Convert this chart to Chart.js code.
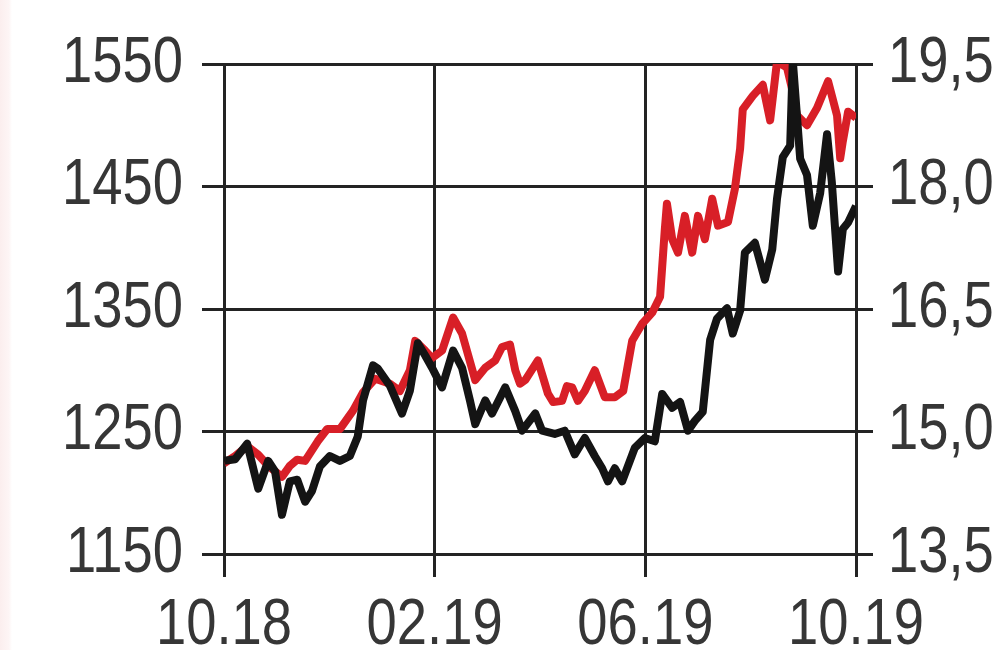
<!DOCTYPE html>
<html>
<head>
<meta charset="utf-8">
<title>Gold & Silver</title>
<script src="https://cdn.jsdelivr.net/npm/chart.js@4/dist/chart.umd.min.js"></script>
<style>
  html, body { margin: 0; padding: 0; background: #fff; }
  body { background: linear-gradient(to right, #fbeeee 0, #fdf5f5 9px, #fff 12px); }
  #wrap { position: relative; width: 996px; height: 650px; }
</style>
</head>
<body>
<div id="wrap"><canvas id="metalsChart"></canvas></div>
<script>
// x values are months since 10.18
const goldMonths = [0, 0.21, 0.44, 0.65, 0.84, 1.10, 1.25, 1.39, 1.54, 1.78, 1.96, 2.20, 2.45, 2.64, 2.87,
  3.15, 3.34, 3.53, 3.63, 3.82, 3.95, 4.14, 4.35, 4.52, 4.77, 4.96, 5.15, 5.28, 5.43, 5.53, 5.62, 5.72,
  5.96, 6.15, 6.25, 6.42, 6.51, 6.61, 6.72, 6.85, 7.04, 7.23, 7.42, 7.58, 7.75, 7.94, 8.13, 8.28, 8.37,
  8.41, 8.51, 8.62, 8.75, 8.89, 9.00, 9.13, 9.27, 9.38, 9.57, 9.70, 9.80, 9.85, 10.04, 10.23, 10.37,
  10.50, 10.69, 10.80, 10.88, 11.07, 11.26, 11.47, 11.64, 11.70, 11.75, 11.85, 12.00];
const goldPrice = [1224, 1230, 1238, 1231, 1222, 1213, 1222, 1227, 1226, 1242, 1252, 1252, 1267, 1282, 1293,
  1289, 1283, 1300, 1324, 1316, 1310, 1316, 1343, 1330, 1292, 1302, 1308, 1319, 1321, 1300, 1289, 1292,
  1308, 1281, 1274, 1275, 1287, 1286, 1275, 1283, 1300, 1278, 1278, 1283, 1324, 1338, 1347, 1360, 1415,
  1436, 1407, 1396, 1426, 1396, 1426, 1407, 1440, 1418, 1421, 1448, 1481, 1513, 1524, 1533, 1504,
  1552, 1547, 1527, 1508, 1500, 1514, 1536, 1508, 1473, 1487, 1511, 1506];

const silverMonths = [0, 0.21, 0.44, 0.65, 0.84, 0.97, 1.10, 1.25, 1.39, 1.54, 1.67, 1.82, 2.01, 2.20, 2.39,
  2.54, 2.64, 2.83, 2.92, 3.15, 3.38, 3.53, 3.68, 3.82, 3.95, 4.14, 4.35, 4.52, 4.67, 4.77, 4.96, 5.09,
  5.34, 5.53, 5.66, 5.91, 6.04, 6.28, 6.47, 6.66, 6.85, 7.04, 7.18, 7.29, 7.42, 7.56, 7.80, 7.99, 8.18,
  8.32, 8.51, 8.66, 8.81, 8.94, 9.09, 9.23, 9.36, 9.55, 9.66, 9.80, 9.89, 10.08, 10.27, 10.41, 10.50,
  10.61, 10.75, 10.80, 10.94, 11.07, 11.18, 11.32, 11.45, 11.54, 11.66, 11.75, 11.85, 12.00];
const silverPrice = [14.64, 14.66, 14.85, 14.30, 14.64, 14.51, 13.98, 14.39, 14.41, 14.14, 14.27, 14.57, 14.70, 14.64, 14.70,
  14.94, 15.38, 15.81, 15.77, 15.56, 15.22, 15.50, 16.08, 15.93, 15.78, 15.54, 15.99, 15.78, 15.38, 15.09, 15.38, 15.22,
  15.54, 15.25, 15.01, 15.22, 15.01, 14.97, 15.01, 14.72, 14.92, 14.70, 14.55, 14.39, 14.55, 14.39, 14.80, 14.92, 14.88,
  15.46, 15.29, 15.36, 15.01, 15.13, 15.24, 16.12, 16.38, 16.51, 16.20, 16.48, 17.19, 17.31, 16.86, 17.23, 17.85,
  18.36, 18.50, 19.54, 18.34, 18.14, 17.52, 17.92, 18.64, 18.06, 16.96, 17.48, 17.56, 17.76];

const monthTicks = [0, 4, 8, 12];
const monthLabels = ["10.18", "02.19", "06.19", "10.19"];
const goldTicks = [1150, 1250, 1350, 1450, 1550];
const silverTickValues = [13.5, 15, 16.5, 18, 19.5];
const silverTicks = ["13,5", "15,0", "16,5", "18,0", "19,5"];

const toPoints = (xs, ys) => xs.map((x, i) => ({ x: x, y: ys[i] }));

const gridColor = "#232323";
const textColor = "#363636";
const tickFont = { family: '"Liberation Sans", Arial, sans-serif', size: 64 };

// no condensed face installed, so squeeze axis text horizontally around its anchor
const narrowText = {
  id: "narrowText",
  beforeDraw(chart) {
    const c = chart.ctx;
    if (c._narrowed) return;
    const fill = c.fillText.bind(c);
    c.fillText = function (text, x, y, maxWidth) {
      c.save();
      c.translate(x, y);
      c.scale(0.85, 1);
      fill(text, 0, 0, maxWidth);
      c.restore();
    };
    c._narrowed = true;
  },
};

const ctx = document.getElementById("metalsChart").getContext("2d");
const metalsChart = new Chart(ctx, {
  type: "line",
  plugins: [narrowText],
  data: {
    datasets: [
      {
        label: "Silver",
        data: toPoints(silverMonths, silverPrice),
        yAxisID: "ySilver",
        borderColor: "#141414",
        borderWidth: 8,
        pointRadius: 0,
        tension: 0,
        borderJoinStyle: "round",
        order: 0,
      },
      {
        label: "Gold",
        data: toPoints(goldMonths, goldPrice),
        yAxisID: "yGold",
        borderColor: "#d81f27",
        borderWidth: 8,
        pointRadius: 0,
        tension: 0,
        borderJoinStyle: "round",
        order: 1,
      },
    ],
  },
  options: {
    responsive: true,
    maintainAspectRatio: false,
    animation: false,
    events: [],
    layout: { padding: { top: 64, left: 0, right: 0, bottom: 0 } },
    plugins: { legend: { display: false }, tooltip: { enabled: false } },
    scales: {
      x: {
        type: "linear",
        min: 0,
        max: 12,
        afterBuildTicks: (scale) => {
          scale.ticks = monthTicks.map((v) => ({ value: v }));
        },
        afterFit: (scale) => { scale.height = 96; },
        ticks: {
          color: textColor,
          font: tickFont,
          padding: 11,
          maxRotation: 0,
          callback: (v) => monthLabels[monthTicks.indexOf(v)],
        },
        grid: { color: gridColor, lineWidth: 3, tickLength: 23 },
        border: { color: gridColor, width: 3 },
      },
      yGold: {
        position: "left",
        min: 1150,
        max: 1550,
        afterBuildTicks: (scale) => {
          scale.ticks = goldTicks.map((v) => ({ value: v }));
        },
        afterFit: (scale) => { scale.width = 224; },
        ticks: { color: textColor, font: tickFont, padding: 19, callback: (v) => String(v) },
        grid: { color: gridColor, lineWidth: 3, tickLength: 22 },
        border: { color: gridColor, width: 3 },
      },
      ySilver: {
        position: "right",
        min: 13.5,
        max: 19.5,
        afterBuildTicks: (scale) => {
          scale.ticks = silverTickValues.map((v) => ({ value: v }));
        },
        afterFit: (scale) => { scale.width = 140; },
        ticks: {
          color: textColor,
          font: tickFont,
          padding: 15,
          callback: (v) => silverTicks[silverTickValues.indexOf(v)],
        },
        grid: { color: gridColor, lineWidth: 3, tickLength: 17, drawOnChartArea: false },
        border: { color: gridColor, width: 3 },
      },
    },
  },
});
</script>
</body>
</html>
